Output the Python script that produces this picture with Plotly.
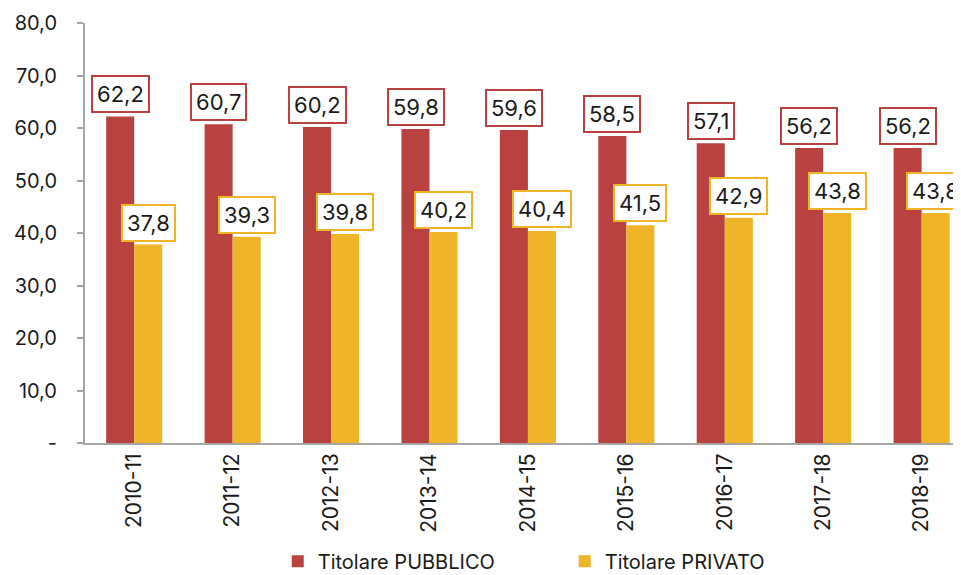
import plotly.graph_objects as go

categories = ["2010-11", "2011-12", "2012-13", "2013-14", "2014-15", "2015-16", "2016-17", "2017-18", "2018-19"]
pubblico = [62.2, 60.7, 60.2, 59.8, 59.6, 58.5, 57.1, 56.2, 56.2]
privato = [37.8, 39.3, 39.8, 40.2, 40.4, 41.5, 42.9, 43.8, 43.8]
y_tickvals = [0, 10, 20, 30, 40, 50, 60, 70, 80]
y_ticktext = ["-", "10,0", "20,0", "30,0", "40,0", "50,0", "60,0", "70,0", "80,0"]

RED = "#B94240"
YEL = "#F0B429"
FONT = "Inter, Noto Sans, sans-serif"

xs = list(range(len(categories)))

fig = go.Figure()
fig.add_trace(go.Bar(x=xs, y=pubblico, name="Titolare PUBBLICO", marker=dict(color=RED, line=dict(width=0))))
fig.add_trace(go.Bar(x=xs, y=privato, name="Titolare PRIVATO", marker=dict(color=YEL, line=dict(width=0))))

off = 0.142
def fmt(v):
    return f"{v:.1f}".replace(".", ",")

for i, (a, b) in enumerate(zip(pubblico, privato)):
    fig.add_annotation(x=i - off, y=a, text=fmt(a), showarrow=False, yanchor="middle", yshift=22,
                       bgcolor="white", bordercolor=RED, borderwidth=2, borderpad=4,
                       font=dict(size=22, color="#1a1a1a", family=FONT))
    fig.add_annotation(x=i + off, y=b, text=fmt(b), showarrow=False, yanchor="middle", yshift=22,
                       bgcolor="white", bordercolor=YEL, borderwidth=2, borderpad=4,
                       font=dict(size=22, color="#1a1a1a", family=FONT))

fig.update_layout(
    width=953, height=567,
    margin=dict(l=77, r=0, t=15, b=132, autoexpand=False),
    paper_bgcolor="white", plot_bgcolor="white",
    barmode="group", bargap=0.43, bargroupgap=0,
    font=dict(family=FONT, size=20, color="#1a1a1a"),
    showlegend=True,
    legend=dict(orientation="h", x=0.22, xanchor="left", y=-0.235, yanchor="top",
                font=dict(size=20, color="#1a1a1a"), entrywidth=242, itemwidth=30,
                traceorder="normal"),
    xaxis=dict(range=[-0.5, 8.4], tickvals=xs, ticktext=categories, tickangle=-90,
               showline=True, linecolor="#A6A6A6", linewidth=2, ticks="", showgrid=False,
               zeroline=False, tickfont=dict(size=21), automargin=False),
    yaxis=dict(range=[0, 80], tickvals=y_tickvals, ticktext=y_ticktext, showline=True,
               linecolor="#A6A6A6", linewidth=2, ticks="outside", ticklen=6, tickcolor="#A6A6A6",
               tickwidth=2, showgrid=False, zeroline=False, tickfont=dict(size=20),
               ticklabelstandoff=16, automargin=False),
)

fig.write_html("out.html")
